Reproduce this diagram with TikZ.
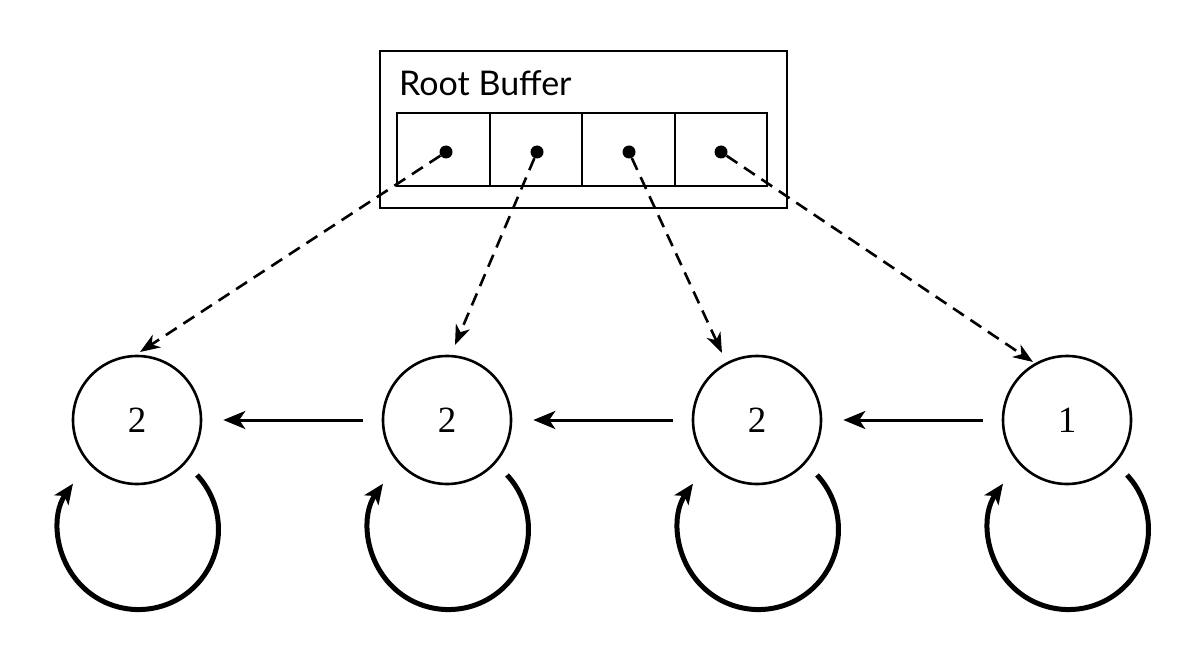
\documentclass[tikz,border=0pt]{standalone}
\usepackage{fontspec}
\setmainfont{Liberation Serif}
\newfontfamily\labelfont{Lato}
\usetikzlibrary{arrows.meta,calc}
\begin{document}
\begin{tikzpicture}[x=1pt,y=1pt,
  statenode/.style={draw,line width=2.6pt,circle,minimum size=128pt,inner sep=0pt,font=\fontsize{37}{44}\selectfont},
  cellbox/.style={draw,line width=2pt,minimum width=92.5pt,minimum height=73pt,inner sep=0pt,outer sep=0pt},
  dotnode/.style={fill,circle,minimum size=13pt,inner sep=0pt},
  ptr/.style={dashed,dash pattern=on 13pt off 8pt,line width=2.6pt,-{Stealth[length=20pt,width=15pt,inset=6pt]}},
  nextarrow/.style={line width=3pt,-{Stealth[length=22pt,width=18pt,inset=6pt]},shorten >=21pt,shorten <=19pt},
  selfloop/.style={line width=5pt,-{Stealth[length=20pt,width=17pt,inset=5pt]}}
]
\useasboundingbox (0,0) rectangle (1196,654);
% outer buffer box
\node[draw,line width=2pt,minimum width=407pt,minimum height=157pt,inner sep=0pt] (outer) at (583.5,524.5) {};
\node[anchor=base west,inner sep=0pt,font=\labelfont\fontsize{34}{40}\selectfont] (title) at (399,558) {Root Buffer};
% cells
\node[cellbox] (b1) at (443.25,504.5) {};
\node[cellbox] (b2) at (535.75,504.5) {};
\node[cellbox] (b3) at (628.25,504.5) {};
\node[cellbox] (b4) at (720.75,504.5) {};
% dots
\node[dotnode] (d1) at (446,502) {};
\node[dotnode] (d2) at (537,502) {};
\node[dotnode] (d3) at (629,502) {};
\node[dotnode] (d4) at (721,502) {};
% states
\node[statenode] (c1) at (137,234) {2};
\node[statenode] (c2) at (447,234) {2};
\node[statenode] (c3) at (757,234) {2};
\node[statenode] (c4) at (1067,234) {1};
% pointers
\coordinate (t1) at (140,302);
\coordinate (t2) at (455,309);
\coordinate (t3) at (722,301);
\coordinate (t4) at (1033,292);
\draw[ptr] (d1) -- (t1);
\draw[ptr] (d2) -- (t2);
\draw[ptr] (d3) -- (t3);
\draw[ptr] (d4) -- (t4);
% next arrows
\draw[nextarrow] (c2.west) -- (c1.east);
\draw[nextarrow] (c3.west) -- (c2.east);
\draw[nextarrow] (c4.west) -- (c3.east);
% self loops
\foreach \c in {c1,c2,c3,c4}{
  \draw[selfloop] ($(\c.center)+(60,-55)$) arc[start angle=43,end angle=-215,radius=80];
}
\end{tikzpicture}
\end{document}
